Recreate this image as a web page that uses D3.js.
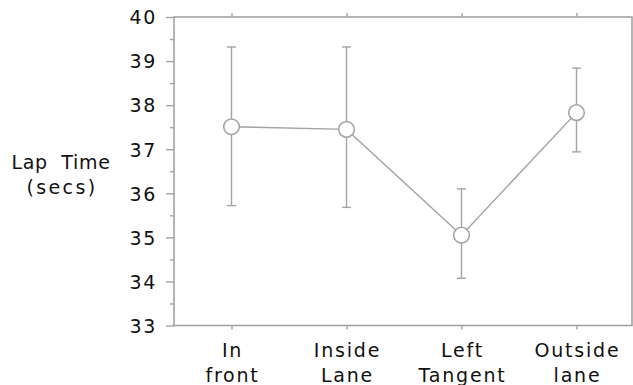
<!DOCTYPE html>
<html><head><meta charset="utf-8">
<script src="https://cdn.jsdelivr.net/npm/d3@7"></script>
<style>body{margin:0;background:#fff}svg{display:block}text{font-family:"DejaVu Sans",sans-serif;fill:#111}</style>
</head><body><svg id="c" width="633" height="385"></svg>
<script>
const categories = [["In","front"],["Inside","Lane"],["Left","Tangent"],["Outside","lane"]];
const means = [37.51, 37.45, 35.05, 37.83];
const upper = [39.32, 39.32, 36.10, 38.84];
const lower = [35.72, 35.68, 34.07, 36.94];
const yTicks = [33,34,35,36,37,38,39,40];
const yMinor = [33.5,34.5,35.5,36.5,37.5,38.5,39.5];

const svg = d3.select("#c");
const L=174, R=634, T=17, B=325.5;
const keys = categories.map((c,i)=>i);
const x = d3.scalePoint().domain(keys).range([L,R]).padding(0.5);
const y = d3.scaleLinear().domain([33,40]).range([B,T]);
const gray="#a3a3a3";

// frame
svg.append("rect").attr("x",L).attr("y",T).attr("width",632-L).attr("height",B-T)
  .attr("fill","none").attr("stroke",gray).attr("stroke-width",1.6);

// left axis
const ga = svg.append("g").attr("transform",`translate(${L},0)`)
  .call(d3.axisLeft(y).tickValues(yTicks).tickSize(8).tickPadding(9).tickFormat(d3.format("d")));
ga.select(".domain").remove();
ga.selectAll("line").attr("stroke",gray).attr("stroke-width",1.4);
ga.selectAll("text").attr("font-size",19).attr("letter-spacing","1.6px").attr("dy","0.36em").style("fill","#111");
const gm = svg.append("g").attr("transform",`translate(${L},0)`)
  .call(d3.axisLeft(y).tickValues(yMinor).tickSize(4).tickFormat(""));
gm.select(".domain").remove();
gm.selectAll("line").attr("stroke",gray).attr("stroke-width",1.4);

// top & bottom ticks
const gt = svg.append("g").attr("transform",`translate(0,${T})`)
  .call(d3.axisTop(x).tickSize(4).tickFormat(""));
gt.select(".domain").remove();
gt.selectAll("line").attr("stroke",gray).attr("stroke-width",1.4);
const gb = svg.append("g").attr("transform",`translate(0,${B})`)
  .call(d3.axisBottom(x).tickSize(4).tickFormat(""));
gb.select(".domain").remove();
gb.selectAll("line").attr("stroke",gray).attr("stroke-width",1.4);

// category labels
keys.forEach(i=>{
  const t = svg.append("text").attr("x",x(i)+1).attr("y",356.5).attr("text-anchor","middle")
    .attr("font-size",19).attr("letter-spacing","1.8px");
  t.append("tspan").attr("x",x(i)+1).text(categories[i][0]);
  t.append("tspan").attr("x",x(i)+1).attr("dy",25).text(categories[i][1]);
});

// y title
const yt = svg.append("text").attr("text-anchor","middle").attr("font-size",19);
yt.append("tspan").attr("x",61).attr("y",168.5).attr("letter-spacing","0.7px").text("Lap\u00a0\u00a0Time");
yt.append("tspan").attr("x",62).attr("y",193.5).attr("letter-spacing","2.4px").text("(secs)");

// error bars
const eb = svg.append("g").attr("stroke",gray).attr("stroke-width",1.4);
keys.forEach(i=>{
  eb.append("line").attr("x1",x(i)).attr("x2",x(i)).attr("y1",y(upper[i])).attr("y2",y(lower[i]));
  [upper[i],lower[i]].forEach(v=>eb.append("line").attr("x1",x(i)-4.5).attr("x2",x(i)+4.5).attr("y1",y(v)).attr("y2",y(v)));
});

// line
svg.append("path").datum(keys).attr("fill","none").attr("stroke",gray).attr("stroke-width",1.4)
  .attr("d",d3.line().x(i=>x(i)).y(i=>y(means[i])));

// points
svg.append("g").selectAll("circle").data(keys).join("circle")
  .attr("cx",i=>x(i)).attr("cy",i=>y(means[i])).attr("r",7.8)
  .attr("fill","#fff").attr("stroke",gray).attr("stroke-width",1.5);
</script></body></html>
